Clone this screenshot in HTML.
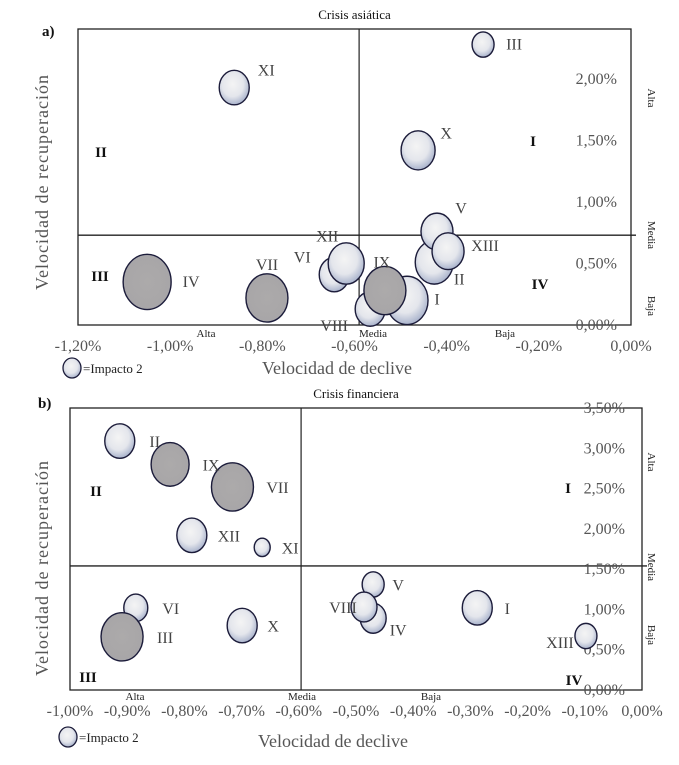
<!DOCTYPE html>
<html><head><meta charset="utf-8">
<style>
html,body{margin:0;padding:0;background:#fff;}
svg{display:block;font-family:"Liberation Serif",serif;}
</style></head>
<body>
<svg id="root" width="679" height="765" viewBox="0 0 679 765" xmlns="http://www.w3.org/2000/svg">
<defs>
<radialGradient id="lightG" cx="45%" cy="40%" r="60%">
<stop offset="0%" stop-color="#f4f4f4"/><stop offset="60%" stop-color="#e4e6ec"/><stop offset="100%" stop-color="#a9b3cc"/>
</radialGradient>
<radialGradient id="darkG" cx="50%" cy="50%" r="55%">
<stop offset="0%" stop-color="#acaaaa"/><stop offset="85%" stop-color="#a8a6a8"/><stop offset="100%" stop-color="#8e94a8"/>
</radialGradient>
</defs>
</svg>
<script>
// ---- Chart a: Crisis asiática ----
const aNames = ["I","II","III","IV","V","VI","VII","VIII","IX","X","XI","XII","XIII"];
const aDecline = [-0.486,-0.427,-0.321,-1.05,-0.421,-0.644,-0.79,-0.566,-0.534,-0.462,-0.861,-0.618,-0.397];
const aRecovery = [0.20,0.51,2.28,0.35,0.76,0.41,0.22,0.13,0.28,1.42,1.93,0.50,0.60];
const aSize = [21,19,11,24,16,15,21,15,21,17,15,18,16];
const aDark = [0,0,0,1,0,0,1,0,1,0,0,0,0];
const aXTicks = [-1.2,-1.0,-0.8,-0.6,-0.4,-0.2,0];
const aYTicks = [0,0.5,1.0,1.5,2.0];
const aMeanX = -0.59, aMeanY = 0.73;

// ---- Chart b: Crisis financiera ----
const bNames = ["I","II","III","IV","V","VI","VII","VIII","IX","X","XI","XII","XIII"];
const bDecline = [-0.288,-0.913,-0.909,-0.470,-0.470,-0.885,-0.716,-0.486,-0.825,-0.699,-0.664,-0.787,-0.098];
const bRecovery = [1.02,3.09,0.66,0.89,1.31,1.02,2.52,1.03,2.80,0.80,1.77,1.92,0.67];
const bSize = [15,15,21,13,11,12,21,13,19,15,8,15,11];
const bDark = [0,0,1,0,0,0,1,0,1,0,0,0,0];
const bXTicks = [-1.0,-0.9,-0.8,-0.7,-0.6,-0.5,-0.4,-0.3,-0.2,-0.1,0];
const bYTicks = [0,0.5,1.0,1.5,2.0,2.5,3.0,3.5];
const bMeanX = -0.596, bMeanY = 1.54;

const NS="http://www.w3.org/2000/svg";
const root=document.getElementById('root');
function mk(tag,attrs,txt,parent){const e=document.createElementNS(NS,tag);for(const k in attrs)e.setAttribute(k,attrs[k]);if(txt!==undefined)e.textContent=txt;(parent||root).appendChild(e);return e;}
function fmt(v){return v.toFixed(2).replace('.',',')+'%';}

function drawChart(c){
  const g=mk('g',{});
  
  
  const sx=v=>c.L+(v-c.xmin)/(c.xmax-c.xmin)*(c.R-c.L);
  const sy=v=>c.B-(v-c.ymin)/(c.ymax-c.ymin)*(c.B-c.T);
  let t=mk('text',{x:(c.L+c.R)/2,y:c.titleY,'text-anchor':'middle','font-size':13,fill:'#111'},c.title,g);
  
  t=mk('text',{x:c.tagX,y:c.tagY,'font-size':15,'font-weight':'bold',fill:'#111'},c.tag,g);
  
  let r=mk('rect',{x:c.L,y:c.T,width:c.R-c.L,height:c.B-c.T,fill:'none',stroke:'#222','stroke-width':1.3},undefined,g);
  
  let l=mk('line',{x1:sx(c.meanX),x2:sx(c.meanX),y1:c.T,y2:c.B,stroke:'#222','stroke-width':1.2},undefined,g);
  
  l=mk('line',{x1:c.L,x2:c.R+5,y1:sy(c.meanY),y2:sy(c.meanY),stroke:'#222','stroke-width':1.4},undefined,g);
  
  c.xTicks.forEach(v=>{const e=mk('text',{x:sx(v),y:c.xTickY,'text-anchor':'middle','font-size':16,fill:'#555'},fmt(v),g);
    });
  c.yTicks.forEach(v=>{const e=mk('text',{x:c.yTickX,y:sy(v)+5,'text-anchor':'end','font-size':16,fill:'#555'},fmt(v),g);
    });
  c.levels.forEach(lv=>{const e=mk('text',{x:lv[1],y:c.levelY,'text-anchor':'middle','font-size':11,fill:'#222'},lv[0],g);
    });
  c.rlevels.forEach(lv=>{const e=mk('text',{x:648,y:lv[1],'text-anchor':'middle','font-size':11,fill:'#222',transform:'rotate(90 648 '+lv[1]+')'},lv[0],g);
    });
  c.quads.forEach(q=>{const e=mk('text',{x:q[1],y:q[2],'text-anchor':'middle','font-size':15,'font-weight':'bold',fill:'#111'},q[0],g);
    });
  const yt=c.yTitle;
  t=mk('text',{x:yt[0],y:yt[1],'text-anchor':'middle','font-size':18,fill:'#555','letter-spacing':'1','transform':'rotate(-90 '+yt[0]+' '+yt[1]+')'},'Velocidad de  recuperación',g);
  
  t=mk('text',{x:c.xTitle[0],y:c.xTitle[1],'text-anchor':'middle','font-size':18,fill:'#555'},'Velocidad de declive',g);
  
  let lc=mk('ellipse',{cx:c.leg[0],cy:c.leg[1],rx:9,ry:10,fill:'url(#lightG)',stroke:'#1c1c3a','stroke-width':1.3},undefined,g);
  
  t=mk('text',{x:c.leg[0]+11,y:c.leg[1]+5,'font-size':13,fill:'#222'},'=Impacto 2',g);
  
  const order=c.names.map((n,i)=>i).sort((a,b)=>c.dark[a]-c.dark[b]);
  order.forEach(i=>{
    const cx=sx(c.xs[i]),cy=sy(c.ys[i]),rr=c.size[i];
    const e=mk('ellipse',{cx:cx,cy:cy,rx:rr,ry:rr*1.15,fill:c.dark[i]?'url(#darkG)':'url(#lightG)',stroke:'#1c1c3a','stroke-width':1.4},undefined,g);
    
    
  });
  c.names.forEach((n,i)=>{
    const o=c.lab[i];
    const e=mk('text',{x:sx(c.xs[i])+o[0],y:sy(c.ys[i])+o[1],'text-anchor':'middle','font-size':16,fill:'#444'},n,g);
    
  });
}

drawChart({id:'asian',title:'Crisis asiática',tag:'a)',tagX:42,tagY:36,titleY:19,
  L:78,R:631,T:29,B:325,xmin:-1.2,xmax:0,ymin:0,ymax:(325-29)/123,
  names:aNames,xs:aDecline,ys:aRecovery,size:aSize,dark:aDark,xTicks:aXTicks,yTicks:aYTicks,meanX:aMeanX,meanY:aMeanY,
  xTickY:351,yTickX:617,levelY:337,levels:[['Alta',206],['Media',373],['Baja',505]],
  rlevels:[['Alta',98],['Media',235],['Baja',306]],
  quads:[['II',101,157],['I',533,146],['III',100,281],['IV',540,289]],
  yTitle:[48,182],xTitle:[337,374],leg:[72,368],
  lab:[[30,4],[25,22],[31,5],[44,5],[24,-18],[-32,-12],[0,-28],[-36,22],[-3,-23],[28,-12],[32,-12],[-19,-22],[37,0]]
});
drawChart({id:'financial',title:'Crisis financiera',tag:'b)',tagX:38,tagY:408,titleY:398,
  L:70,R:642,T:408,B:690,xmin:-1.0,xmax:0,ymin:0,ymax:3.5,
  names:bNames,xs:bDecline,ys:bRecovery,size:bSize,dark:bDark,xTicks:bXTicks,yTicks:bYTicks,meanX:bMeanX,meanY:bMeanY,
  xTickY:716,yTickX:625,levelY:700,levels:[['Alta',135],['Media',302],['Baja',431]],
  rlevels:[['Alta',462],['Media',567],['Baja',635]],
  quads:[['II',96,496],['I',568,493],['III',88,682],['IV',574,685]],
  yTitle:[48,568],xTitle:[333,747],leg:[68,737],
  lab:[[30,6],[35,6],[43,6],[25,17],[25,6],[35,6],[45,6],[-21,6],[41,6],[31,6],[28,6],[37,6],[-26,12]]
});
</script>
</body></html>
